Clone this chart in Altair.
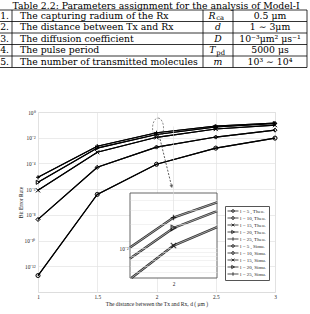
import math
import altair as alt
import pandas as pd

# ---------------- table content ----------------
table_title = "Table 2.2: Parameters assignment for the analysis of Model-I"
row_no = ["1.", "2.", "3.", "4.", "5."]
row_desc = [
    "The capturing radium of the Rx",
    "The distance between Tx and Rx",
    "The diffusion coefficient",
    "The pulse period",
    "The number of transmitted molecules",
]
row_sym = ["R", "d", "D", "T", "m"]
row_sub = ["ca", "", "", "pd", ""]
row_val = ["0.5 μm", "1 ∼ 3μm", "10⁻³μm² μs⁻¹", "5000 μs", "10³ ∼ 10⁴"]

# ---------------- chart data ----------------
distance = [1, 1.5, 2, 2.5, 3]
l_values = [5, 10, 15, 20, 25]
ber_theo = {
    5: [1.9e-13, 3.9e-7, 8.7e-5, 1.55e-3, 9.3e-3],
    10: [4.4e-9, 5.0e-5, 1.86e-3, 1.12e-2, 3.9e-2],
    15: [8.1e-7, 7.4e-4, 1.07e-2, 4.7e-2, 9.5e-2],
    20: [3.4e-6, 1.55e-3, 1.78e-2, 6.8e-2, 0.126],
    25: [8.3e-6, 2.2e-3, 2.4e-2, 8.1e-2, 0.138],
}
ber_simu = {
    5: [1.9e-13, 3.9e-7, 8.7e-5, 1.55e-3, 9.3e-3],
    10: [4.4e-9, 5.0e-5, 1.86e-3, 1.12e-2, 3.9e-2],
    15: [8.1e-7, 7.4e-4, 1.07e-2, 4.7e-2, 9.5e-2],
    20: [3.4e-6, 1.55e-3, 1.78e-2, 6.8e-2, 0.126],
    25: [8.3e-6, 2.2e-3, 2.4e-2, 8.1e-2, 0.138],
}
inset_series = [15, 20, 25]
y_tick_values = [1e-12, 1e-10, 1e-8, 1e-6, 1e-4, 1e-2, 1]
inset_y_ticks = [0.005, 0.006, 0.007, 0.008, 0.009, 0.01, 0.02, 0.03, 0.04]

# annotation (zoom ellipse and arrow), in data units
ellipse_pt = {"d": [2.013], "ber": [0.0562]}
arrow_seg = {"d": [2.03], "ber": [7.8e-3], "d2": [2.128], "ber2": [1.6e-6]}

SERIF = "Liberation Serif"
TSERIF = "DejaVu Serif"
TXT = "#222222"

# ---------------- build tables ----------------
rows = []
for kind, src in (("Theo.", ber_theo), ("Simu.", ber_simu)):
    for l in l_values:
        for d, b in zip(distance, src[l]):
            rows.append({"d": d, "ber": b, "l": l, "kind": kind,
                         "label": f"l = {l:<2}, {kind}"})
df = pd.DataFrame(rows)
legend_labels = [f"l = {l:<2}, {k}" for k in ("Theo.", "Simu.") for l in l_values]

X_PATH = "M-1,-1L1,1M-1,1L1,-1"
PLUS_PATH = "M-1,0H1M0,-1V1"
marker_shape = {5: "circle", 10: "diamond", 15: X_PATH, 20: "triangle-right", 25: PLUS_PATH}
# legend glyphs: a short line with the marker in its middle (units of 2 px)
leg_path = {
    5: "M-1.25,0H4.25M2.2,0A0.7,0.7 0 1,1 0.8,0A0.7,0.7 0 1,1 2.2,0",
    10: "M-1.25,0H4.25M1.5,-0.95L2.2,0L1.5,0.95L0.8,0Z",
    15: "M-1.25,0H4.25M0.8,-0.7L2.2,0.7M0.8,0.7L2.2,-0.7",
    20: "M-1.25,0H4.25M0.85,-0.8L2.25,0L0.85,0.8Z",
    25: "M-1.25,0H4.25M1.5,-0.9V0.9",
}
legend_paths = [leg_path[l] for _ in range(2) for l in l_values]

sup = str.maketrans("-0123456789", "⁻⁰¹²³⁴⁵⁶⁷⁸⁹")
pow_labels = ["10" + str(-k).translate(sup) for k in range(0, 15)]
y_label_expr = "[" + ",".join(f"'{s}'" for s in pow_labels) + "][round(-log(datum.value)/LN10)]"

# ---------------- main plot ----------------
main_x = alt.Scale(domain=[1, 3], nice=False, zero=False)
main_y = alt.Scale(type="log", domain=[1e-14, 1], nice=False)

xaxis = alt.Axis(values=distance, format="~g",
                 title="The distance between the Tx and Rx,  d ( μm )",
                 labelFont=SERIF, titleFont=SERIF, labelFontSize=5.3, titleFontSize=5.6,
                 titleFontWeight="normal", labelColor=TXT, titleColor=TXT,
                 labelPadding=2, titlePadding=2, ticks=False, domain=False,
                 grid=True, gridColor="#e2e2e2", gridWidth=0.7, labelFlush=False,
                 orient="bottom")
yaxis = alt.Axis(values=y_tick_values, labelExpr=y_label_expr, title="Bit Error Rate",
                 labelFont=SERIF, titleFont=SERIF, labelFontSize=5.3, titleFontSize=5.6,
                 titleFontWeight="normal", labelColor=TXT, titleColor=TXT,
                 labelPadding=3, titleX=-14.5, titleY=90, titleAngle=270,
                 titleAlign="center", titleBaseline="bottom", ticks=False, domain=False,
                 grid=True, gridColor="#e2e2e2", gridWidth=0.7, orient="left",
                 labelFlush=False)

base = alt.Chart(df)
lines = base.mark_line(color="black", strokeWidth=1.1).encode(
    x=alt.X("d:Q", scale=main_x, axis=xaxis),
    y=alt.Y("ber:Q", scale=main_y, axis=yaxis),
    detail="label:N",
)
marker_layers = []
for l in l_values:
    marker_layers.append(
        base.transform_filter(f"datum.l == {l}")
        .mark_point(shape=marker_shape[l], filled=False, color="black", size=16, strokeWidth=0.95)
        .encode(x=alt.X("d:Q", scale=main_x), y=alt.Y("ber:Q", scale=main_y))
    )
legend_layer = base.mark_point(opacity=0, filled=False, color="black").encode(
    x=alt.X("d:Q", scale=main_x),
    y=alt.Y("ber:Q", scale=main_y),
    shape=alt.Shape("label:N", scale=alt.Scale(domain=legend_labels, range=legend_paths),
                    legend=alt.Legend(orient="none", legendX=187, legendY=94, title=None,
                                      labelFont=SERIF, labelFontSize=5, labelColor=TXT,
                                      symbolSize=16, symbolStrokeWidth=0.7,
                                      symbolStrokeColor="black", symbolOpacity=1,
                                      rowPadding=0, padding=2.5, labelOffset=7.5,
                                      strokeColor="#555", fillColor="white",
                                      labelLimit=200)),
)
ellipse = alt.Chart(pd.DataFrame(ellipse_pt)).mark_point(
    shape="M0,-1A0.55,1 0 1,1 0,1A0.55,1 0 1,1 0,-1", size=400, filled=False,
    color="#333", strokeWidth=0.8, strokeDash=[2, 1.5]
).encode(x=alt.X("d:Q", scale=main_x), y=alt.Y("ber:Q", scale=main_y))
arrow = alt.Chart(pd.DataFrame(arrow_seg)).mark_rule(
    color="#333", strokeWidth=0.8, strokeDash=[2, 1.5]
).encode(x=alt.X("d:Q", scale=main_x), y=alt.Y("ber:Q", scale=main_y),
         x2="d2:Q", y2="ber2:Q")
arrow_head = alt.Chart(pd.DataFrame(arrow_seg)).mark_point(
    shape="triangle-down", filled=True, color="#222", size=14, angle=346
).encode(x=alt.X("d2:Q", scale=main_x), y=alt.Y("ber2:Q", scale=main_y))

main = alt.layer(lines, *marker_layers, legend_layer, ellipse, arrow, arrow_head)

# ---------------- inset ----------------
IX0, IX1 = 1.82, 2.18
IY0, IY1 = 0.0042170, 0.048697
inset_x = alt.Scale(domain=[IX0, IX1], range=[92, 179], nice=False, zero=False)
inset_y = alt.Scale(type="log", domain=[IY0, IY1], range=[166, 81], nice=False)


def clip_polyline(xs, ys, xlo, xhi, ylo, yhi):
    """Clip a polyline (log-y space) to the inset viewport."""
    out = []
    ly_lo, ly_hi = math.log10(ylo), math.log10(yhi)
    for i in range(len(xs) - 1):
        x0, y0 = xs[i], math.log10(ys[i])
        x1, y1 = xs[i + 1], math.log10(ys[i + 1])
        dx, dy = x1 - x0, y1 - y0
        t0, t1, ok = 0.0, 1.0, True
        for p, q in ((-dx, x0 - xlo), (dx, xhi - x0), (-dy, y0 - ly_lo), (dy, ly_hi - y0)):
            if p == 0:
                if q < 0:
                    ok = False
                    break
            else:
                t = q / p
                if p < 0:
                    t0 = max(t0, t)
                else:
                    t1 = min(t1, t)
        if not ok or t0 > t1:
            continue
        out.append((x0 + t0 * dx, 10 ** (y0 + t0 * dy)))
        out.append((x0 + t1 * dx, 10 ** (y0 + t1 * dy)))
    return out


inset_rows = []
for kind, src in (("Theo.", ber_theo), ("Simu.", ber_simu)):
    for l in inset_series:
        for x, y in clip_polyline(distance, src[l], IX0, IX1, IY0, IY1):
            inset_rows.append({"d": x, "ber": y, "l": l, "kind": kind})
inset_df = pd.DataFrame(inset_rows)
inset_pts = df[(df["d"] == 2) & (df["l"].isin(inset_series)) & (df["kind"] == "Theo.")]

ixaxis = alt.Axis(values=[2], format="~g", title=None, orient="bottom", offset=-14,
                  labelFont=SERIF, labelFontSize=5.3, labelColor=TXT, labelPadding=3,
                  ticks=False, domain=False, grid=True, gridColor="#dcdcdc",
                  gridWidth=0.6, zindex=1)
iyaxis = alt.Axis(values=inset_y_ticks, labelExpr="datum.value == 0.01 ? '10⁻²' : ''",
                  title=None, orient="left", offset=-92, labelFont=SERIF, labelFontSize=5.3,
                  labelColor=TXT, labelPadding=2, ticks=False, domain=False, grid=True,
                  gridColor="#e4e4e4", gridWidth=0.5, zindex=1)

frame = alt.Chart(pd.DataFrame({"k": [0]})).mark_rect(
    fill="white", stroke="#555", strokeWidth=0.9
).encode(
    x=alt.X(datum=IX0, type="quantitative", scale=inset_x, axis=ixaxis),
    x2=alt.X2(datum=IX1),
    y=alt.Y(datum=IY0, type="quantitative", scale=inset_y, axis=iyaxis),
    y2=alt.Y2(datum=IY1),
)
ibase = alt.Chart(inset_df)
inset_theo = ibase.transform_filter("datum.kind == 'Theo.'").mark_line(
    color="#333", strokeWidth=2.4
).encode(x=alt.X("d:Q", scale=inset_x), y=alt.Y("ber:Q", scale=inset_y), detail="l:N")
inset_simu = ibase.transform_filter("datum.kind == 'Simu.'").mark_line(
    color="#bdbdbd", strokeWidth=0.8
).encode(x=alt.X("d:Q", scale=inset_x), y=alt.Y("ber:Q", scale=inset_y), detail="l:N")
inset_marks = []
for l in inset_series:
    inset_marks.append(
        alt.Chart(inset_pts).transform_filter(f"datum.l == {l}")
        .mark_point(shape=marker_shape[l], filled=False, color="black", size=30, strokeWidth=1.3)
        .encode(x=alt.X("d:Q", scale=inset_x), y=alt.Y("ber:Q", scale=inset_y))
    )
inset = alt.layer(frame, inset_theo, inset_simu, *inset_marks)

# ---------------- table (drawn above the plot area) ----------------
tdf = pd.DataFrame({"row": list(range(5)), "no": row_no, "desc": row_desc,
                    "sym": row_sym, "sub": row_sub, "val": row_val})
ty = alt.Scale(domain=[0, 5], range=[-102, -44.5], nice=False, zero=False)
tbase = alt.Chart(tdf).transform_calculate(mid="datum.row + 0.5")
ymid = alt.Y("mid:Q", scale=ty, axis=None)
TFS = 9.3
tkw = dict(font=TSERIF, fontSize=TFS, color="black", baseline="middle")

t_no = tbase.mark_text(align="right", **tkw).encode(x=alt.value(-29), y=ymid, text="no:N")
t_desc = tbase.mark_text(align="left", **tkw).encode(x=alt.value(-18), y=ymid, text="desc:N")
t_sym = tbase.transform_filter("datum.sub == ''").mark_text(
    align="center", fontStyle="italic", **tkw).encode(x=alt.value(180), y=ymid, text="sym:N")
t_sym2 = tbase.transform_filter("datum.sub != ''").mark_text(
    align="right", fontStyle="italic", **tkw).encode(x=alt.value(177.5), y=ymid, text="sym:N")
t_sub = tbase.transform_filter("datum.sub != ''").mark_text(
    align="left", font=TSERIF, fontSize=6.8, color="black", baseline="middle", dy=2.6
).encode(x=alt.value(178.3), y=ymid, text="sub:N")
t_val = tbase.mark_text(align="center", **tkw).encode(x=alt.value(232), y=ymid, text="val:N")

hlines = alt.Chart(pd.DataFrame({"edge": list(range(6))})).mark_rule(
    color="black", strokeWidth=0.8
).encode(y=alt.Y("edge:Q", scale=ty, axis=None), x=alt.value(-38), x2=alt.value(269))
vlines = []
for xv in (-26, 165, 195, 269):
    vlines.append(
        alt.Chart(pd.DataFrame({"k": [0]})).mark_rule(color="black", strokeWidth=0.8).encode(
            x=alt.value(xv),
            y=alt.Y(datum=0, type="quantitative", scale=ty, axis=None),
            y2=alt.Y2(datum=5),
        )
    )
t_title = alt.Chart(pd.DataFrame({"t": [table_title]})).mark_text(
    align="center", font=TSERIF, fontSize=TFS, color="black", baseline="alphabetic"
).encode(x=alt.value(118), y=alt.value(-103.5), text="t:N")

table = alt.layer(hlines, *vlines, t_no, t_desc, t_sym, t_sym2, t_sub, t_val, t_title)

chart = (
    alt.layer(main, inset, table)
    .resolve_scale(x="independent", y="independent")
    .properties(width=237, height=180,
                autosize=alt.AutoSizeParams(type="none"),
                padding={"left": 38, "top": 112, "right": 35, "bottom": 22})
    .configure_view(stroke="#555", strokeWidth=1)
    .configure(background="white")
)

chart.save("out.html", embed_options={"renderer": "svg", "actions": False})
